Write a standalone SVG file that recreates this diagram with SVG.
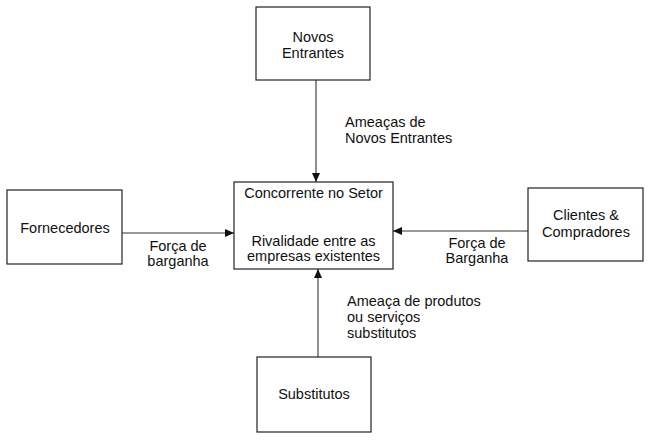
<svg xmlns="http://www.w3.org/2000/svg" width="648" height="443" viewBox="0 0 648 443">
<style>
.box{fill:#fff;stroke:#222;stroke-width:1.2}
.t{font-family:"Liberation Sans",Arial,sans-serif;font-size:14.5px;fill:#111}
.c{text-anchor:middle}
.ln{stroke:#333;stroke-width:1.1;fill:none}
</style>
<defs>
<marker id="ah" markerWidth="10" markerHeight="10" refX="9" refY="5" orient="auto" markerUnits="userSpaceOnUse">
<path d="M0,1 L9,5 L0,9 Z" fill="#111"/>
</marker>
</defs>
<rect width="648" height="443" fill="#fff"/>
<g id="connectors">
<line class="ln" x1="316" y1="80" x2="316" y2="182" marker-end="url(#ah)"/>
<line class="ln" x1="318" y1="357" x2="318" y2="269" marker-end="url(#ah)"/>
<line class="ln" x1="122" y1="233" x2="234" y2="233" marker-end="url(#ah)"/>
<line class="ln" x1="528" y1="231" x2="393" y2="231" marker-end="url(#ah)"/>
<text class="t" x="345" y="127">Ameaças de</text>
<text class="t" x="345" y="143">Novos Entrantes</text>
<text class="t c" x="178" y="251">Força de</text>
<text class="t c" x="178" y="266">barganha</text>
<text class="t c" x="477" y="248">Força de</text>
<text class="t c" x="477" y="263">Barganha</text>
<text class="t" x="347" y="306">Ameaça de produtos</text>
<text class="t" x="347" y="322">ou serviços</text>
<text class="t" x="347" y="338">substitutos</text>
</g>
<g id="novos-entrantes">
<rect class="box" x="256" y="7" width="114" height="73"/>
<text class="t c" x="313" y="42">Novos</text>
<text class="t c" x="313" y="58">Entrantes</text>
</g>
<g id="concorrente">
<rect class="box" x="234" y="182" width="159" height="87"/>
<text class="t c" x="313.5" y="198">Concorrente no Setor</text>
<text class="t c" x="313.5" y="246">Rivalidade entre as</text>
<text class="t c" x="313.5" y="261">empresas existentes</text>
</g>
<g id="fornecedores">
<rect class="box" x="7" y="190" width="115" height="74"/>
<text class="t c" x="65" y="233">Fornecedores</text>
</g>
<g id="clientes">
<rect class="box" x="528" y="188" width="115" height="73"/>
<text class="t c" x="586" y="220">Clientes &amp;</text>
<text class="t c" x="586" y="237">Compradores</text>
</g>
<g id="substitutos">
<rect class="box" x="257" y="357" width="114" height="75"/>
<text class="t c" x="314" y="399">Substitutos</text>
</g>
</svg>
